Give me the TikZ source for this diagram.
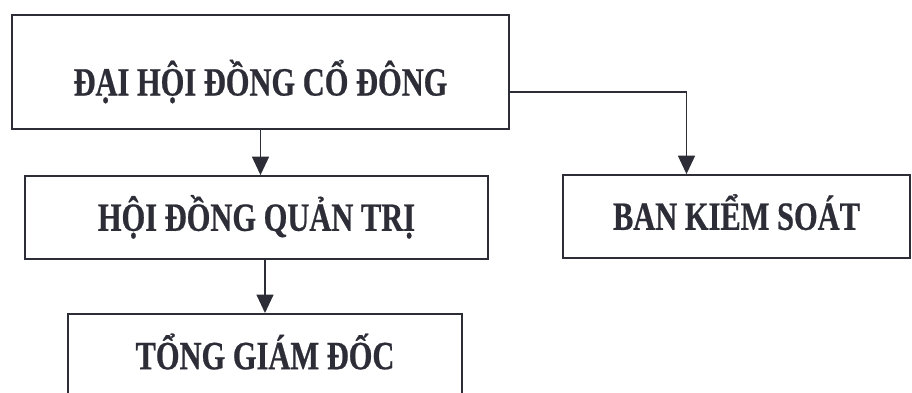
\documentclass[tikz,border=0pt]{standalone}
\usepackage{fontspec}
\newfontfamily\vnfont{Liberation Serif}[FakeStretch=0.76, BoldFeatures={FakeBold=0.6}]
\usetikzlibrary{arrows.meta}
\definecolor{inkgray}{RGB}{45,45,55}

\begin{document}
\begin{tikzpicture}[node distance=3.6cm]
\tikzstyle{unit} = [rectangle, draw=inkgray, line width=1.4pt, text=inkgray, inner sep=0pt, font=\vnfont\bfseries\fontsize{28.5}{30}\selectfont, text height=6.6mm, text depth=0pt]
\tikzstyle{arrow} = [draw=inkgray, line width=1.4pt, -{Triangle[length=4.6mm,width=4.2mm]}]

\useasboundingbox (0,0) rectangle (22.8,-9.8);
\clip (0,0) rectangle (22.8,-9.8);

\node (dhdcd) [unit, minimum width=12.425cm, minimum height=2.85cm, text height=11.75mm] at (6.5125,-1.8) {ĐẠI HỘI ĐỒNG CỔ ĐÔNG};
\node (hdqt) [unit, minimum width=11.575cm, minimum height=2.075cm, below of=dhdcd, xshift=-0.1cm, yshift=-0.04cm] {HỘI ĐỒNG QUẢN TRỊ};
\node (bks) [unit, minimum width=8.675cm, minimum height=2.075cm, right of=hdqt, xshift=8.4cm, yshift=0.025cm] {BAN KIỂM SOÁT};
\node (tgd) [unit, minimum width=9.85cm, minimum height=2.1cm, below of=hdqt, xshift=0.2125cm, yshift=0.14cm] {TỔNG GIÁM ĐỐC};

\draw [arrow] (dhdcd.south) -- (dhdcd.south |- hdqt.north);
\draw [arrow] ([yshift=-0.5cm]dhdcd.east) -| ([xshift=-1.25cm]bks.north);
\draw [arrow] (tgd.north |- hdqt.south) -- (tgd.north);
\end{tikzpicture}
\end{document}
